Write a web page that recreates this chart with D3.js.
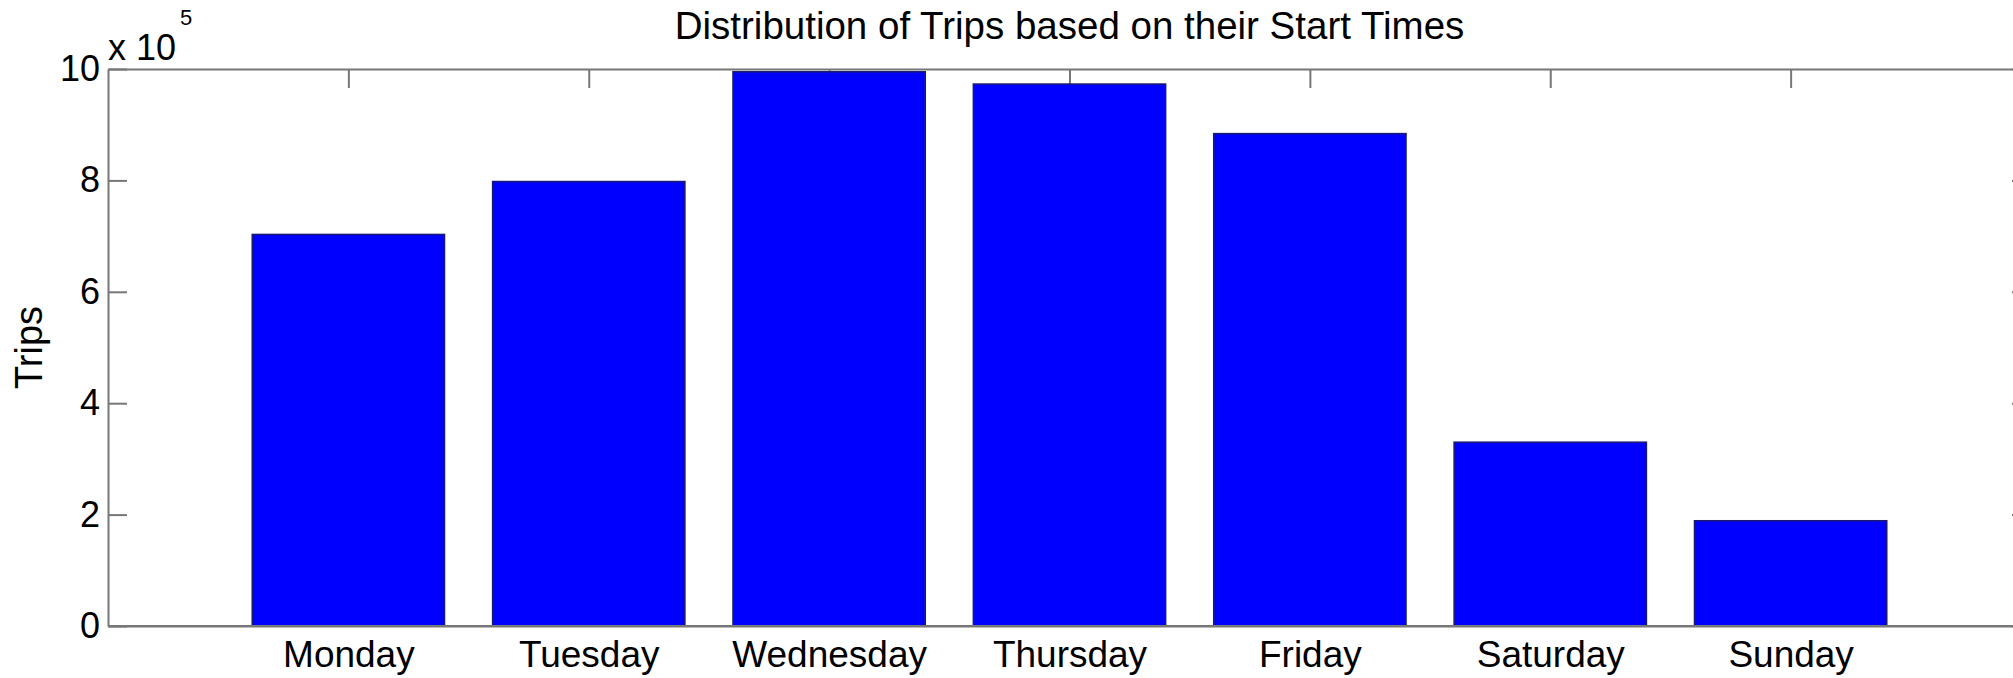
<!DOCTYPE html>
<html>
<head>
<meta charset="utf-8">
<script src="https://cdn.jsdelivr.net/npm/d3@7"></script>
<style>
  body { margin: 0; background: #fff; }
  text { font-family: "Liberation Sans", Arial, sans-serif; fill: #000; }
</style>
</head>
<body>
<div id="graphique"></div>
<script>
// données
const jours = ["Monday", "Tuesday", "Wednesday", "Thursday", "Friday", "Saturday", "Sunday"];
const trajets = [703000, 798000, 995000, 973000, 884000, 330000, 189000];
const ticksY = [0, 200000, 400000, 600000, 800000, 1000000];

const largeur = 2013;
const hauteur = 678;
const gauche = 108, droite = 2031, haut = 69, bas = 626;
const longTick = 19;

const svg = d3.select("#graphique")
  .append("svg")
  .attr("width", largeur)
  .attr("height", hauteur);

// échelles : barres centrées sur 1..7, xlim [0, 8]
const x = d3.scaleLinear().domain([0, jours.length + 1]).range([gauche, droite]);
const y = d3.scaleLinear().domain([0, 1000000]).range([bas, haut]);
const largeurBarre = 0.8;

const couleurAxe = "#777";

// axes (ticks vers l'intérieur)
const axeGauche = svg.append("g")
  .attr("transform", `translate(${gauche},0)`)
  .call(d3.axisLeft(y).tickValues(ticksY).tickSizeInner(-longTick).tickSizeOuter(0)
    .tickPadding(8).tickFormat(d => d / 100000));

const axeDroit = svg.append("g")
  .attr("transform", `translate(${droite},0)`)
  .call(d3.axisRight(y).tickValues(ticksY).tickSizeInner(-longTick).tickSizeOuter(0)
    .tickFormat(""));

const axeBas = svg.append("g")
  .attr("transform", `translate(0,${bas})`)
  .call(d3.axisBottom(x).tickValues(d3.range(1, jours.length + 1)).tickSizeInner(-longTick)
    .tickSizeOuter(0).tickPadding(15).tickFormat(d => jours[d - 1]));

const axeHaut = svg.append("g")
  .attr("transform", `translate(0,${haut})`)
  .call(d3.axisTop(x).tickValues(d3.range(1, jours.length + 1)).tickSizeInner(-longTick)
    .tickSizeOuter(0).tickFormat(""));

[axeGauche, axeDroit, axeBas, axeHaut].forEach(a => {
  a.selectAll("path, line").attr("stroke", couleurAxe).attr("stroke-width", 2);
  a.selectAll("text").attr("fill", "#000");
});
axeGauche.selectAll("text").style("font-size", "36px");
axeBas.selectAll("text").style("font-size", "37px");

// barres
svg.append("g")
  .selectAll("rect")
  .data(trajets)
  .enter()
  .append("rect")
  .attr("x", (d, i) => x(i + 1 - largeurBarre / 2))
  .attr("width", x(largeurBarre) - x(0))
  .attr("y", d => y(d))
  .attr("height", d => y(0) - y(d))
  .attr("fill", "#0000ff")
  .attr("stroke", "#1a1a6e")
  .attr("stroke-width", 1.5);

// on redessine la ligne de base par-dessus
svg.append("line")
  .attr("x1", gauche).attr("x2", droite)
  .attr("y1", bas).attr("y2", bas)
  .attr("stroke", couleurAxe).attr("stroke-width", 2);

// titre
svg.append("text")
  .attr("x", (gauche + droite) / 2)
  .attr("y", 39)
  .attr("text-anchor", "middle")
  .style("font-size", "38.5px")
  .text("Distribution of Trips based on their Start Times");

// facteur d'échelle x 10^5
const facteur = svg.append("text")
  .attr("x", 108)
  .attr("y", 60)
  .style("font-size", "36px");
facteur.append("tspan").text("x 10");
facteur.append("tspan")
  .attr("x", 180).attr("y", 25)
  .style("font-size", "22px")
  .text("5");

// titre de l'axe Y
svg.append("text")
  .attr("transform", `translate(42,${(haut + bas) / 2}) rotate(-90)`)
  .attr("text-anchor", "middle")
  .style("font-size", "38px")
  .text("Trips");
</script>
</body>
</html>
